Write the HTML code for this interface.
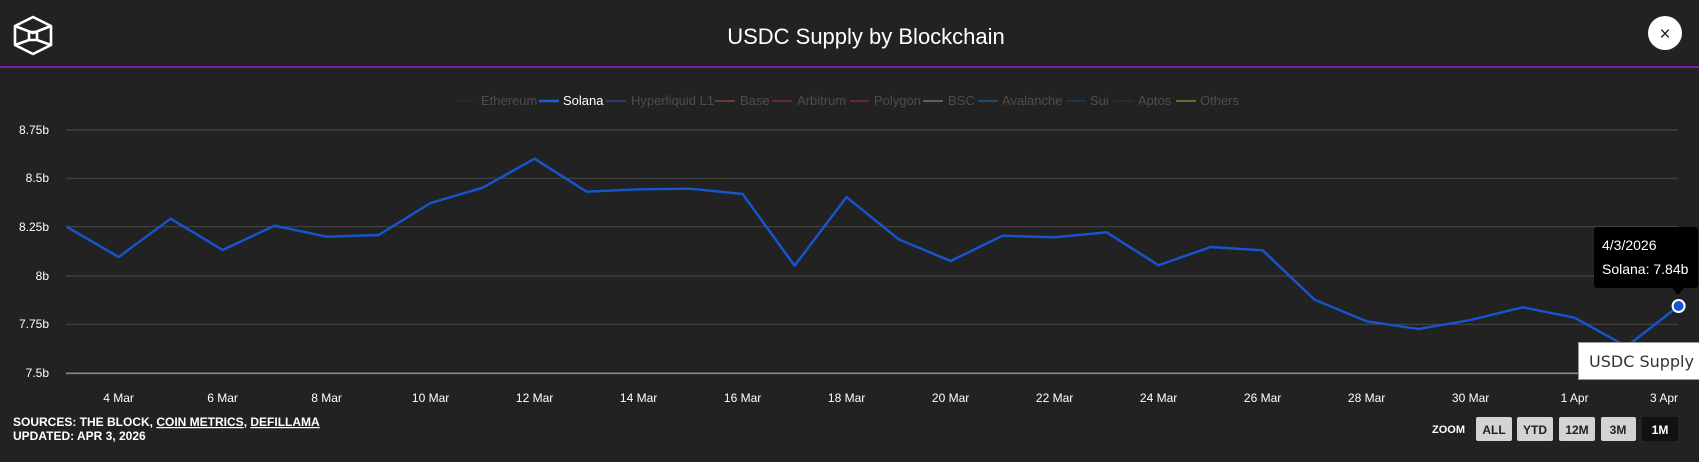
<!DOCTYPE html>
<html><head><meta charset="utf-8"><style>
html,body{margin:0;padding:0;background:#222;}
body{width:1699px;height:462px;overflow:hidden;position:relative;font-family:"Liberation Sans",sans-serif;}
svg{position:absolute;left:0;top:0;}
</style></head><body>
<svg width="1699" height="462" viewBox="0 0 1699 462" xmlns="http://www.w3.org/2000/svg" font-family="Liberation Sans, sans-serif">
<rect width="1699" height="462" fill="#222"/>
<g fill="none" stroke="#fff" stroke-width="2.6" stroke-linejoin="round">
<polygon points="33,17 51,26 51,45 33,54 15,45 15,26"/>
<polyline points="15,26 33,33 51,26"/>
<rect x="29" y="32" width="8" height="8" rx="1.5"/>
<line x1="29" y1="40" x2="15" y2="45"/><line x1="37" y1="40" x2="51" y2="45"/>
</g>
<text x="866" y="44" fill="#fff" font-size="22" text-anchor="middle">USDC Supply by Blockchain</text>
<circle cx="1665" cy="33" r="17" fill="#fff"/>
<text x="1665" y="40" fill="#222" font-size="19" text-anchor="middle">×</text>
<rect x="0" y="66" width="1699" height="2" fill="#7a1fa2"/>
<g font-size="13" fill="#4d4d4d">
<line x1="456" y1="101" x2="476" y2="101" stroke="#1e2a3a" stroke-width="2"/><text x="481" y="105">Ethereum</text>
<line x1="539" y1="101" x2="559" y2="101" stroke="#1b5fd6" stroke-width="2.5"/><text x="563" y="105" fill="#fff">Solana</text>
<line x1="606" y1="101" x2="626" y2="101" stroke="#2e3d6e" stroke-width="2"/><text x="631" y="105">Hyperliquid L1</text>
<line x1="715" y1="101" x2="735" y2="101" stroke="#6b3a30" stroke-width="2"/><text x="740" y="105">Base</text>
<line x1="772" y1="101" x2="792" y2="101" stroke="#6b2a2a" stroke-width="2"/><text x="797" y="105">Arbitrum</text>
<line x1="850" y1="101" x2="869" y2="101" stroke="#6b2a2a" stroke-width="2"/><text x="874" y="105">Polygon</text>
<line x1="923" y1="101" x2="943" y2="101" stroke="#5a6070" stroke-width="2"/><text x="948" y="105">BSC</text>
<line x1="978" y1="101" x2="998" y2="101" stroke="#1e4a70" stroke-width="2"/><text x="1002" y="105">Avalanche</text>
<line x1="1066" y1="101" x2="1086" y2="101" stroke="#1a3550" stroke-width="2"/><text x="1090" y="105">Sui</text>
<line x1="1114" y1="101" x2="1134" y2="101" stroke="#203038" stroke-width="2"/><text x="1138" y="105">Aptos</text>
<line x1="1176" y1="101" x2="1196" y2="101" stroke="#6a6a30" stroke-width="2"/><text x="1200" y="105">Others</text>
</g>
<g stroke="#444" stroke-width="1.2">
<line x1="66" y1="130" x2="1678" y2="130"/>
<line x1="66" y1="178.3" x2="1678" y2="178.3"/>
<line x1="66" y1="226.7" x2="1678" y2="226.7"/>
<line x1="66" y1="276" x2="1678" y2="276"/>
<line x1="66" y1="324.3" x2="1678" y2="324.3"/>
</g>
<line x1="66" y1="373.3" x2="1678" y2="373.3" stroke="#888" stroke-width="1.6"/>
<g font-size="12" fill="#fff" text-anchor="end">
<text x="49" y="134">8.75b</text><text x="49" y="182">8.5b</text><text x="49" y="231">8.25b</text>
<text x="49" y="280">8b</text><text x="49" y="328">7.75b</text><text x="49" y="377">7.5b</text>
</g>
<g font-size="12" fill="#fff" text-anchor="middle">
<text x="118.6" y="402">4 Mar</text><text x="222.6" y="402">6 Mar</text><text x="326.6" y="402">8 Mar</text>
<text x="430.6" y="402">10 Mar</text><text x="534.6" y="402">12 Mar</text><text x="638.6" y="402">14 Mar</text>
<text x="742.6" y="402">16 Mar</text><text x="846.6" y="402">18 Mar</text><text x="950.6" y="402">20 Mar</text>
<text x="1054.6" y="402">22 Mar</text><text x="1158.6" y="402">24 Mar</text><text x="1262.6" y="402">26 Mar</text>
<text x="1366.6" y="402">28 Mar</text><text x="1470.6" y="402">30 Mar</text><text x="1574.6" y="402">1 Apr</text>
<text x="1664" y="402">3 Apr</text>
</g>
<polyline fill="none" stroke="#1556d0" stroke-width="2.4" stroke-linejoin="round" points="66.6,226.7 118.6,257 170.6,218.7 222.6,250 274.6,225.7 326.6,236.7 378.6,235 430.6,203 482.6,187.7 534.6,158.7 586.6,191.7 638.6,189.3 690.6,188.7 742.6,194 794.6,265.7 846.6,197 898.6,239.3 950.6,261 1002.6,235.7 1054.6,237.3 1106.6,232.3 1158.6,265.3 1210.6,247 1262.6,250.3 1314.6,299.7 1366.6,321.3 1418.6,329 1470.6,320 1522.6,307.3 1574.6,317.7 1626.6,346.5 1678.6,306"/>
<rect x="1594" y="227" width="104" height="61" rx="3" fill="#000"/>
<polygon points="1672,288 1684,288 1678,295" fill="#000"/>
<text x="1602" y="250" fill="#fff" font-size="14">4/3/2026</text>
<text x="1602" y="274" fill="#fff" font-size="14">Solana: 7.84b</text>
<circle cx="1678.6" cy="306" r="6" fill="#1556d0" stroke="#fff" stroke-width="2"/>
<rect x="1578.5" y="342.5" width="125" height="37" fill="#fff" stroke="#999" stroke-width="1"/>
<text x="1589" y="367" fill="#333" font-size="16" font-family="DejaVu Sans, sans-serif">USDC Supply</text>
<g font-size="12" fill="#fff" font-weight="bold">
<text x="13" y="426">SOURCES: THE BLOCK, <tspan text-decoration="underline">COIN METRICS</tspan>, <tspan text-decoration="underline">DEFILLAMA</tspan></text>
<text x="13" y="440">UPDATED: APR 3, 2026</text>
</g>
<text x="1432" y="433" fill="#fff" font-size="11" font-weight="bold">ZOOM</text>
<g font-size="12" font-weight="bold" text-anchor="middle">
<rect x="1476" y="417" width="36" height="24" rx="2" fill="#d3d3d3"/><text x="1494" y="434" fill="#222">ALL</text>
<rect x="1517" y="417" width="36" height="24" rx="2" fill="#d3d3d3"/><text x="1535" y="434" fill="#222">YTD</text>
<rect x="1559" y="417" width="36" height="24" rx="2" fill="#d3d3d3"/><text x="1577" y="434" fill="#222">12M</text>
<rect x="1601" y="417" width="35" height="24" rx="2" fill="#d3d3d3"/><text x="1618" y="434" fill="#222">3M</text>
<rect x="1642" y="417" width="36" height="24" rx="2" fill="#111"/><text x="1660" y="434" fill="#fff">1M</text>
</g>
</svg>
</body></html>
